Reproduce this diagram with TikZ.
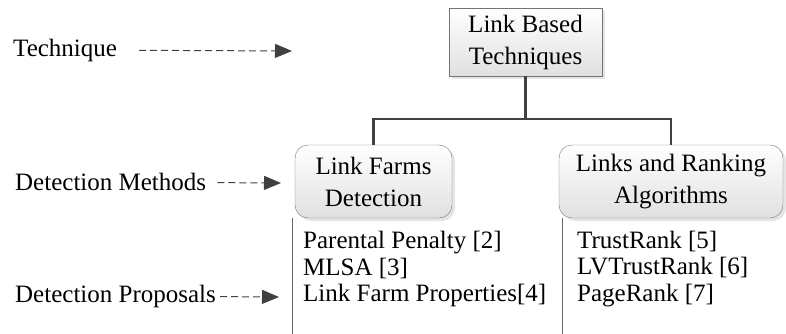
\documentclass[tikz,border=0pt]{standalone}
\usepackage{fontspec}
\setmainfont{Liberation Serif}
\usetikzlibrary{arrows.meta,shadows}
\tikzset{
  techbox/.style={draw=black!55, top color=white, bottom color=black!12,
    drop shadow={shadow xshift=3pt, shadow yshift=-3pt, fill=black!20},
    align=center, inner sep=0pt, font=\fontsize{25}{32}\selectfont},
  methodbox/.style={techbox, rounded corners=13pt},
  levellabel/.style={anchor=west, inner sep=0pt, font=\fontsize{25}{28}\selectfont},
  levelarrow/.style={draw=black!75, dash pattern=on 7pt off 4pt, line width=1pt,
    -{Triangle[length=17pt, width=14pt]}},
  branch/.style={draw=black!75, line width=2.8pt},
  proposals/.style={anchor=west, align=left, inner sep=0pt, font=\fontsize{25}{26.5}\selectfont},
  column/.style={draw=black!60, line width=0.6pt}
}

\begin{document}
\begin{tikzpicture}[x=1pt, y=1pt]
        \useasboundingbox (0,0) rectangle (786,-334);
        \path (525.5,-42) node[techbox, minimum width=153pt, minimum height=68pt](lbt) {Link Based\\Techniques}
              (373.5,-181.5) node[methodbox, minimum width=157pt, minimum height=73pt](lfd) {Link Farms\\Detection}
              (671,-181.5) node[methodbox, minimum width=224pt, minimum height=73pt](lra) {Links and Ranking\\Algorithms};
        \path (13,-50) node[levellabel](tq) {Technique}
              (15,-182) node[levellabel](dm) {Detection Methods}
              (15,-296) node[levellabel](dp) {Detection Proposals};
        \path (303,-269) node[proposals](lfp) {Parental Penalty [2]\\MLSA [3]\\Link Farm Properties[4]}
              (577,-269) node[proposals](lrp) {TrustRank [5]\\LVTrustRank [6]\\PageRank [7]};
        \coordinate (tqend) at (292,-51);
        \coordinate (dmend) at (281,-183);
        \coordinate (dpend) at (279,-297);
        \coordinate (fork) at (525.5,-119);
        % level arrows
        \draw[levelarrow, shorten <=22pt] (tq) -- (tqend);
        \draw[levelarrow, shorten <=11pt] (dm) -- (dmend);
        \draw[levelarrow, shorten <=4pt] (dp) -- (dpend);
        % tree
        \draw[branch] (lbt.south) -- (fork);
        \draw[branch] (lfd.north) |- (fork) -| (lra.north);
        \draw[column] ([xshift=-3pt]lfd.south west) -- ++(0,-116);
        \draw[column] ([xshift=3pt]lra.south west) -- ++(0,-116);
    \end{tikzpicture}
\end{document}
